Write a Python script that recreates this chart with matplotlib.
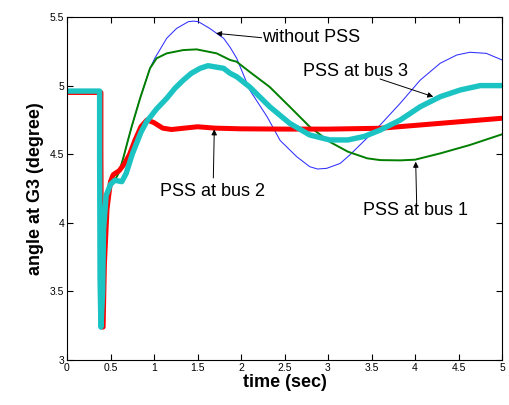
import matplotlib
matplotlib.use("Agg")
import matplotlib.pyplot as plt

plt.rcParams['font.family'] = ['Liberation Sans', 'DejaVu Sans']

# without PSS (blue)
t_blue = [0, 0.37, 0.37, 0.38, 0.39, 0.41, 0.43, 0.46, 0.5, 0.55, 0.6, 0.65, 0.7, 0.743, 0.84,
          0.954, 1.01, 1.146, 1.26, 1.395, 1.45, 1.51, 1.64, 1.80, 1.874, 1.95, 2.10, 2.30,
          2.45, 2.64, 2.79, 2.88, 2.985, 3.14, 3.25, 3.42, 3.6, 3.83, 4.06, 4.29, 4.48, 4.63,
          4.82, 5.0]
v_blue = [4.96, 4.96, 4.5, 3.6, 3.24, 3.5, 3.95, 4.2, 4.28, 4.31, 4.37, 4.48, 4.6, 4.70, 4.907,
          5.126, 5.2, 5.345, 5.417, 5.466, 5.47, 5.466, 5.417, 5.345, 5.28, 5.2, 4.968, 4.773,
          4.60, 4.482, 4.409, 4.392, 4.397, 4.433, 4.494, 4.60, 4.713, 4.871, 5.04, 5.163, 5.223,
          5.243, 5.235, 5.187]

# PSS at bus 1 (green)
t_green = [0, 0.37, 0.37, 0.38, 0.39, 0.41, 0.43, 0.46, 0.5, 0.55, 0.6, 0.65, 0.7, 0.743, 0.84,
           0.954, 1.03, 1.146, 1.337, 1.49, 1.72, 1.874, 1.95, 2.10, 2.33, 2.56, 2.79, 3.02,
           3.23, 3.45, 3.6, 3.83, 4.0, 4.29, 4.63, 5.0]
v_green = [4.96, 4.96, 4.5, 3.6, 3.24, 3.5, 3.95, 4.2, 4.28, 4.31, 4.37, 4.48, 4.6, 4.70, 4.907,
           5.126, 5.199, 5.235, 5.259, 5.264, 5.235, 5.187, 5.174, 5.10, 4.99, 4.846, 4.70, 4.59,
           4.518, 4.47, 4.457, 4.455, 4.46, 4.506, 4.567, 4.645]

# PSS at bus 2 (red)
t_red = [0, 0.39, 0.39, 0.40, 0.415, 0.43, 0.46, 0.5, 0.53, 0.6, 0.66, 0.72, 0.78, 0.85,
         0.92, 1.0, 1.1, 1.2, 1.35, 1.5, 1.7, 2.0, 2.5, 3.0, 3.6, 4.06, 4.52, 5.0]
v_red = [4.95, 4.95, 4.5, 3.24, 3.24, 3.7, 4.1, 4.3, 4.35, 4.38, 4.43, 4.5, 4.6, 4.7,
         4.75, 4.73, 4.69, 4.68, 4.69, 4.70, 4.69, 4.685, 4.683, 4.683, 4.689, 4.713, 4.737, 4.762]

# PSS at bus 3 (cyan)
t_cyan = [0, 0.375, 0.375, 0.38, 0.39, 0.41, 0.42, 0.45, 0.5, 0.55, 0.63, 0.68, 0.75, 0.85,
          0.915, 1.03, 1.146, 1.24, 1.337, 1.43, 1.53, 1.62, 1.80, 1.874, 1.95, 2.10, 2.33,
          2.56, 2.79, 3.02, 3.23, 3.42, 3.6, 3.83, 4.06, 4.29, 4.52, 4.75, 5.0]
v_cyan = [4.96, 4.96, 4.5, 3.6, 3.24, 3.5, 3.95, 4.2, 4.28, 4.31, 4.30, 4.36, 4.5, 4.66,
          4.737, 4.83, 4.907, 4.98, 5.04, 5.09, 5.126, 5.145, 5.126, 5.09, 5.065, 4.99, 4.846,
          4.725, 4.64, 4.604, 4.604, 4.63, 4.676, 4.749, 4.846, 4.919, 4.968, 5.0, 5.0]

xticks = [0, 0.5, 1, 1.5, 2, 2.5, 3, 3.5, 4, 4.5, 5]
xticklabels = ['0', '0.5', '1', '1.5', '2', '2.5', '3', '3.5', '4', '4.5', '5']
yticks = [3, 3.5, 4, 4.5, 5, 5.5]
yticklabels = ['3', '3.5', '4', '4.5', '5', '5.5']

fig = plt.figure(figsize=(5.09, 4.05), dpi=100)
ax = fig.add_axes([67/509, 1-360/405, 435/509, 343/405])

ax.plot(t_blue, v_blue, color='#2f2fff', lw=0.75)
ax.plot(t_green, v_green, color='#007f00', lw=1.4)
ax.plot(t_red, v_red, color='#ff0000', lw=3.6)
ax.plot(t_cyan, v_cyan, color='#1cc3c3', lw=3.9)

ax.set_xlim(0, 5)
ax.set_ylim(3, 5.5)
ax.set_xticks(xticks)
ax.set_xticklabels(xticklabels)
ax.set_yticks(yticks)
ax.set_yticklabels(yticklabels)
ax.tick_params(direction='in', top=True, right=True, length=4, width=0.8,
               labelsize=7.5, pad=2, colors='black')
for s in ax.spines.values():
    s.set_linewidth(0.8)

ax.set_xlabel('time (sec)', fontsize=13, fontweight='bold', labelpad=1)
ax.set_ylabel('angle at G3 (degree)', fontsize=13, fontweight='bold', labelpad=4)

arrow = dict(arrowstyle='-|>', color='black', lw=0.7, mutation_scale=8, shrinkA=0, shrinkB=0)
labels = ['without PSS', 'PSS at bus 3', 'PSS at bus 2', 'PSS at bus 1']
text_pos = [(2.24, 5.354), (2.709, 5.101), (1.069, 4.227), (3.402, 4.093)]
tails = [(2.238, 5.349), (3.598, 5.048), (1.682, 4.327), (4.02, 4.115)]
heads = [(1.713, 5.381), (4.21, 4.919), (1.693, 4.681), (4.008, 4.445)]
for lab, tp, tl, hd in zip(labels, text_pos, tails, heads):
    ax.text(tp[0], tp[1], lab, fontsize=13, ha='left', va='center')
    ax.annotate('', xy=hd, xytext=tl, arrowprops=arrow)

fig.savefig('out.png', dpi=100)
